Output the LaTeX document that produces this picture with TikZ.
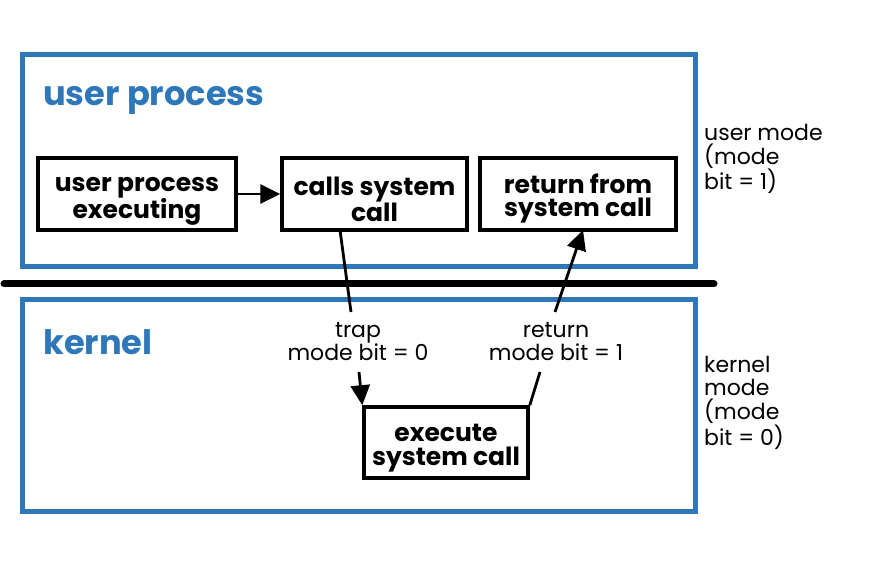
\documentclass[tikz,border=0pt]{standalone}
\usepackage{fontspec}
\setmainfont{Poppins}
\usetikzlibrary{arrows.meta}
\definecolor{regblue}{HTML}{2E78BA}
\newcommand{\toppad}{\rule{0pt}{29pt}}
\tikzset{
  region/.style={draw=regblue, line width=5pt},
  regtitle/.style={text=regblue, font={\fontsize{33.7}{34}\selectfont\bfseries}, anchor=base west, inner sep=0pt},
  stepbox/.style={draw=black, line width=3.5pt, align=center, inner sep=0pt,
    font={\fontsize{25}{23.5}\selectfont\bfseries}},
  conn/.style={line width=2.8pt, black},
  arr/.style={conn, -{Triangle[length=20pt,width=19pt]}},
  lbl/.style={align=center, inner sep=0pt, anchor=base, font={\fontsize{22}{23}\selectfont}},
  sidelbl/.style={align=left, anchor=base west, inner sep=0pt, font={\fontsize{22}{23.5}\selectfont}},
}
\begin{document}
\begin{tikzpicture}[x=1pt,y=-1pt]
\useasboundingbox (0,0) rectangle (884,588);
% regions
\draw[region] (22,55) rectangle (695,267);
\draw[region] (22,300) rectangle (695,511);
\node[regtitle] (ut) at (43,106) {user process};
\node[regtitle] (kt) at (43,354) {kernel};
% separator
\draw[line width=7pt, line cap=round] (4,284) -- (714,284);
% boxes
\node[stepbox, minimum width=198pt, minimum height=72pt] (b1) at (137,194) {\toppad user process\\executing};
\node[stepbox, minimum width=185pt, minimum height=72pt] (b2) at (374.5,194) {\toppad calls system\\call};
\node[stepbox, minimum width=196pt, minimum height=72pt] (b3) at (578,194) {\toppad return from\\system call};
\node[stepbox, minimum width=164pt, minimum height=71pt] (b4) at (446,442.5) {\toppad execute\\system call};
% labels
\node[lbl] (trap) at (358,360) {trap\\mode bit = 0};
\node[lbl] (ret) at (556,360) {return\\mode bit = 1};
\node[sidelbl] (um) at (704,190) {user mode\\(mode\\bit = 1)};
\node[sidelbl] (km) at (704,445) {kernel\\mode\\(mode\\bit = 0)};
% connectors
\draw[arr] (b1.east) -- (b2.west);
\coordinate (t1) at (340,230);
\coordinate (t2) at (351,312);
\coordinate (t3) at (359,372);
\draw[conn] (t1) -- (t2);
\draw[arr] (t3) -- (b4.north west);
\coordinate (r1) at (540,372);
\coordinate (r2) at (555,312);
\coordinate (r3) at (583,230);
\draw[conn] (b4.north east) -- (r1);
\draw[arr] (r2) -- (r3);
\end{tikzpicture}
\end{document}
